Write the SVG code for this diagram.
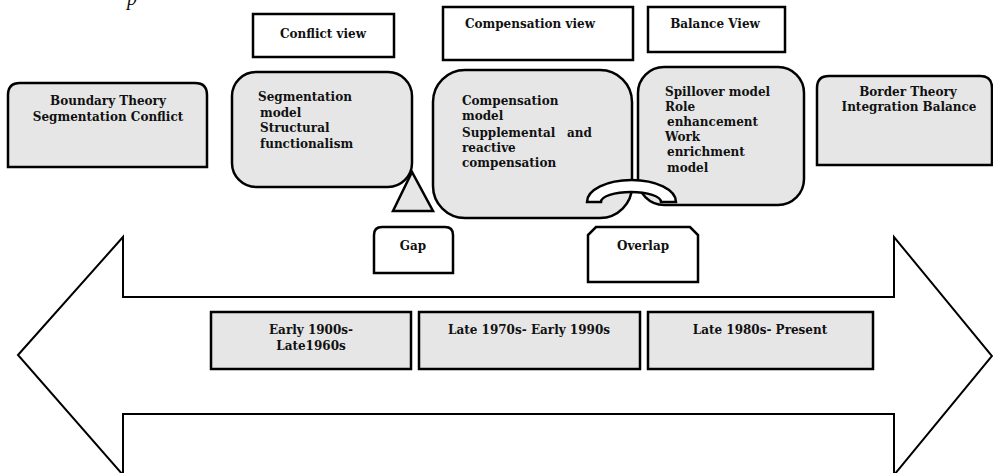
<svg xmlns="http://www.w3.org/2000/svg" width="993" height="473" viewBox="0 0 993 473">
<style>
text{font-family:"DejaVu Serif","Liberation Serif",serif;font-weight:bold;font-size:12px;fill:#111}
.c{text-anchor:middle}
.box{fill:#fff;stroke:#000;stroke-width:2.5}
.g{fill:#e6e6e6;stroke:#000;stroke-width:2.5}
.arrow{fill:#fff;stroke:#000;stroke-width:2}
</style>
<text x="127" y="5" style="font-style:italic;font-weight:normal;font-size:20px;font-family:'Liberation Serif',serif">p</text>
<g id="timeline-arrow">
<polygon class="arrow" points="18,355 123,237 123,297 894,297 894,237 992,356 894,475 894,414 123,414 123,475"/>
</g>
<g id="conflict-view"><rect class="box" x="253" y="14" width="141" height="43"/><text class="c" x="323" y="38">Conflict view</text></g>
<g id="compensation-view"><rect class="box" x="443" y="7" width="190" height="53"/><text class="c" x="530" y="28">Compensation view</text></g>
<g id="balance-view"><rect class="box" x="648" y="7" width="137" height="45"/><text class="c" x="715" y="28">Balance View</text></g>
<g id="boundary-theory"><path class="g" d="M8,167 V95 Q8,83 20,83 H195 Q207,83 207,95 V167 Z"/><text class="c" x="108" y="105">Boundary Theory</text><text class="c" x="108" y="121">Segmentation Conflict</text></g>
<g id="segmentation"><rect class="g" x="232" y="72" width="180" height="115" rx="24"/>
<text x="258" y="101">Segmentation</text><text x="260" y="117">model</text><text x="260" y="132">Structural</text><text x="260" y="148">functionalism</text></g>
<g id="compensation"><rect class="g" x="433" y="70" width="199" height="148" rx="32"/>
<text x="462" y="105">Compensation</text><text x="462" y="120">model</text><text x="462" y="137">Supplemental</text><text x="567" y="137">and</text><text x="462" y="152">reactive</text><text x="462" y="167">compensation</text></g>
<g id="spillover"><rect class="g" x="638" y="67" width="166" height="138" rx="26"/>
<text x="665" y="96">Spillover model</text><text x="665" y="111">Role</text><text x="667" y="126">enhancement</text><text x="665" y="141">Work</text><text x="667" y="156">enrichment</text><text x="667" y="172">model</text></g>
<g id="border-theory"><path class="g" d="M817,165 V88 Q817,76 829,76 H980 Q992,76 992,88 V165 Z"/><text class="c" x="908" y="96">Border Theory</text><text class="c" x="909" y="111">Integration Balance</text></g>
<g id="connectors">
<polygon class="g" points="412,172 393,211 433,211"/>
<path d="M587,202 A44.5,22 0 0 1 676,202 L661,202 A30,10 0 0 0 601,202 Z" fill="#fff" stroke="#000" stroke-width="2.5"/>
</g>
<g id="gap"><path class="box" d="M374,273 V235 Q374,227 382,227 H445 Q453,227 453,235 V273 Z"/><text class="c" x="413" y="250">Gap</text></g>
<g id="overlap"><path class="box" d="M588,282 V235 L596,227 H690 L698,235 V282 Z"/><text class="c" x="643" y="250">Overlap</text></g>
<g id="period-1"><rect class="g" x="211" y="312" width="200" height="57"/><text class="c" x="311" y="334">Early 1900s-</text><text class="c" x="311" y="350">Late1960s</text></g>
<g id="period-2"><rect class="g" x="419" y="312" width="221" height="57"/><text class="c" x="529" y="334">Late 1970s- Early 1990s</text></g>
<g id="period-3"><rect class="g" x="648" y="312" width="225" height="57"/><text class="c" x="760" y="334">Late 1980s- Present</text></g>
</svg>
